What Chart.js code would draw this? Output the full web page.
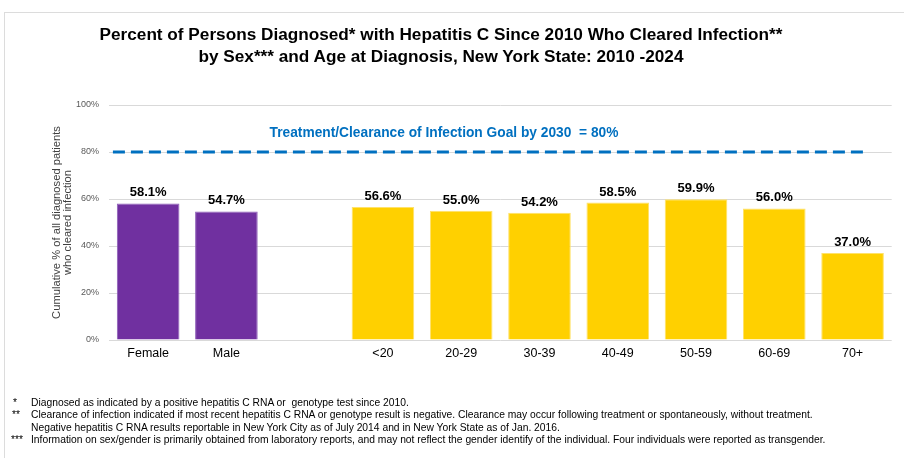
<!DOCTYPE html>
<html>
<head>
<meta charset="utf-8">
<script src="https://cdn.jsdelivr.net/npm/chart.js@4.4.1/dist/chart.umd.min.js"></script>
<style>
html,body{margin:0;padding:0;background:#fff;}
#wrap{position:relative;width:904px;height:458px;overflow:hidden;font-family:"Liberation Sans",Arial,sans-serif;background:#fff;}
#frame{position:absolute;left:4px;top:12px;width:1000px;height:1000px;border-left:1px solid #DCDCDC;border-top:1px solid #DCDCDC;}
canvas{position:absolute;left:0;top:0;}
.t{position:absolute;left:0;width:882px;text-align:center;font-weight:bold;font-size:17.2px;line-height:20px;color:#000;white-space:nowrap;}
.fn{position:absolute;font-size:10.3px;line-height:12px;color:#000;white-space:nowrap;}
</style>
</head>
<body>
<div id="wrap">
  <div id="frame"></div>
  <canvas id="c" width="904" height="458"></canvas>
  <div class="t" style="top:24px">Percent of Persons Diagnosed* with Hepatitis C Since 2010 Who Cleared Infection**</div>
  <div class="t" style="top:46px">by Sex*** and Age at Diagnosis, New York State: 2010 -2024</div>
  <div class="fn" style="left:13px;top:397px">*</div>
  <div class="fn" style="left:31px;top:397px">Diagnosed as indicated by a positive hepatitis C RNA or&nbsp; genotype test since 2010.</div>
  <div class="fn" style="left:12px;top:409px">**</div>
  <div class="fn" style="left:31px;top:409px">Clearance of infection indicated if most recent hepatitis C RNA or genotype result is negative. Clearance may occur following treatment or spontaneously, without treatment.</div>
  <div class="fn" style="left:31px;top:422px">Negative hepatitis C RNA results reportable in New York City as of July 2014 and in New York State as of Jan. 2016.</div>
  <div class="fn" style="left:11px;top:434px">***</div>
  <div class="fn" style="left:31px;top:434px">Information on sex/gender is primarily obtained from laboratory reports, and may not reflect the gender identify of the individual. Four individuals were reported as transgender.</div>
</div>
<script>
// ---- Data ----
const SEX_LABELS = ['Female', 'Male'];
const SEX_VALUES = [58.1, 54.7];
const AGE_LABELS = ['<20', '20-29', '30-39', '40-49', '50-59', '60-69', '70+'];
const AGE_VALUES = [56.6, 55.0, 54.2, 58.5, 59.9, 56.0, 37.0];
const Y_TICKS = [0, 20, 40, 60, 80, 100];
const GOAL = 80;
const GOAL_LABEL = 'Treatment/Clearance of Infection Goal by 2030  = 80%';
const Y_TITLE = ['Cumulative % of all diagnosed patients', 'who cleared infection'];

// ---- Build ----
const FONT = '"Liberation Sans", Arial, sans-serif';
const PURPLE = '#7030A0', YELLOW = '#FFD000';
const labels = [...SEX_LABELS, '', ...AGE_LABELS];
const values = [...SEX_VALUES, null, ...AGE_VALUES];
const colors = [...SEX_VALUES.map(() => PURPLE), 'rgba(0,0,0,0)', ...AGE_VALUES.map(() => YELLOW)];
const borders = [...SEX_VALUES.map(() => '#8D5DB8'), 'rgba(0,0,0,0)', ...AGE_VALUES.map(() => '#FFE26A')];

const goalPlugin = {
  id: 'goalLine',
  beforeDatasetsDraw(chart) {
    const {ctx, scales: {x, y}} = chart;
    const gy = y.getPixelForValue(GOAL);
    ctx.save();
    ctx.strokeStyle = '#0070C0';
    ctx.lineWidth = 3;
    ctx.setLineDash([12, 6]);
    ctx.lineCap = 'butt';
    ctx.beginPath();
    ctx.moveTo(x.getPixelForValue(-0.45), gy);
    ctx.lineTo(x.getPixelForValue(9.2), gy);
    ctx.stroke();
    ctx.restore();
  }
};

const labelPlugin = {
  id: 'valueLabels',
  afterDatasetsDraw(chart) {
    const {ctx, scales: {x, y}} = chart;
    const meta = chart.getDatasetMeta(0);
    ctx.save();
    ctx.font = 'bold 13px ' + FONT;
    ctx.fillStyle = '#000';
    ctx.textAlign = 'center';
    ctx.textBaseline = 'alphabetic';
    meta.data.forEach((bar, i) => {
      const v = values[i];
      if (v === null || v === undefined) return;
      ctx.fillText(v.toFixed(1) + '%', bar.x, bar.y - 7);
    });
    ctx.font = 'bold 13.75px ' + FONT;
    ctx.fillStyle = '#0070C0';
    ctx.textBaseline = 'middle';
    ctx.fillText(GOAL_LABEL, x.getPixelForValue(3.78), y.getPixelForValue(GOAL) - 18.5);
    ctx.restore();
  }
};

new Chart(document.getElementById('c'), {
  type: 'bar',
  data: {
    labels: labels,
    datasets: [{
      data: values,
      backgroundColor: colors,
      borderColor: borders,
      borderWidth: 1,
      categoryPercentage: 1,
      barPercentage: 0.8
    }]
  },
  options: {
    responsive: false,
    animation: false,
    layout: {padding: {left: 0, right: 12.3, top: 105, bottom: 88}},
    plugins: {legend: {display: false}, tooltip: {enabled: false}, title: {display: false}},
    scales: {
      x: {
        type: 'category',
        grid: {display: false, drawTicks: false},
        border: {display: false},
        ticks: {font: {family: FONT, size: 12.5}, color: '#000', padding: 6, maxRotation: 0, autoSkip: false},
        afterFit: s => { s.height = 30; }
      },
      y: {
        min: 0,
        max: 100,
        afterBuildTicks: s => { s.ticks = Y_TICKS.map(v => ({value: v})); },
        grid: {color: '#D9D9D9', lineWidth: 1, drawTicks: false},
        border: {display: false},
        ticks: {font: {family: FONT, size: 9}, color: '#595959', padding: 10, callback: v => v + '%'},
        title: {display: true, text: Y_TITLE, font: {family: FONT, size: 11.2, lineHeight: 1.03}, color: '#404040', padding: {top: 51, bottom: 0}},
        afterFit: s => { s.width = 109; }
      }
    }
  },
  plugins: [goalPlugin, labelPlugin]
});
</script>
</body>
</html>
